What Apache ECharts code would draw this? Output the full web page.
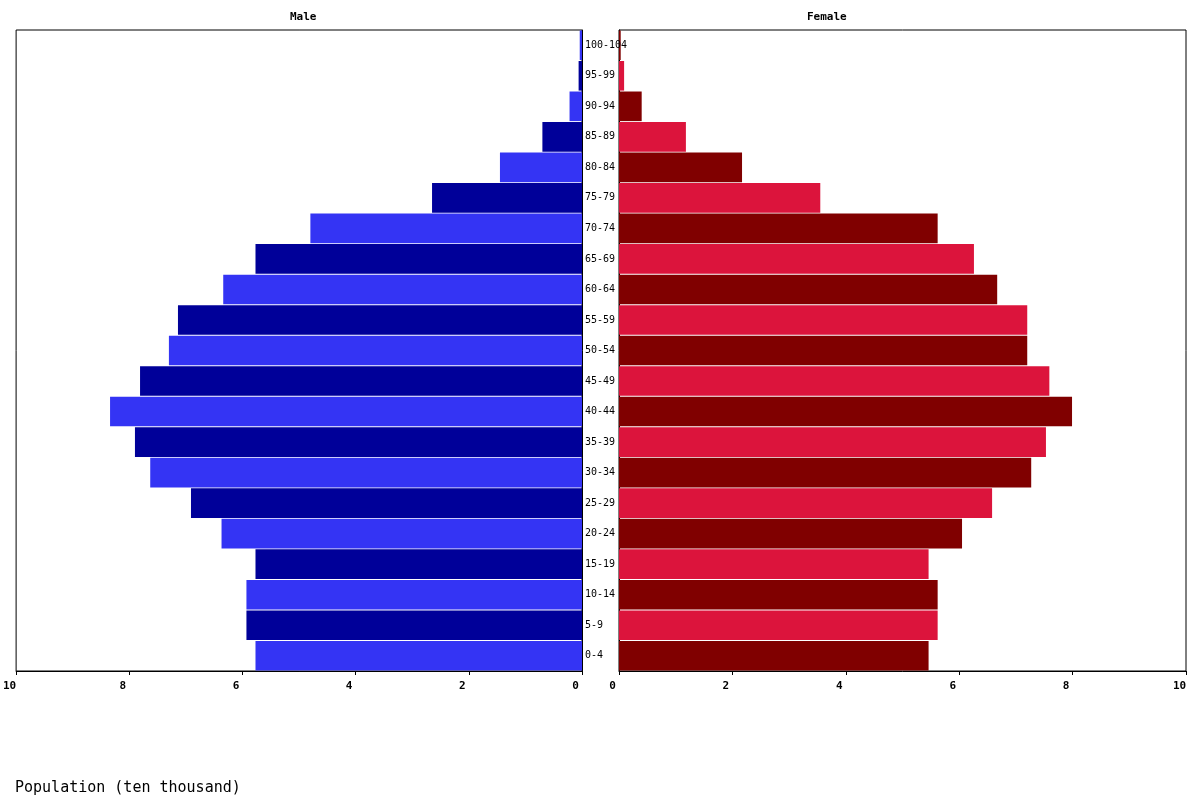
<!DOCTYPE html>
<html>
<head>
<meta charset="utf-8">
<script src="https://cdn.jsdelivr.net/npm/echarts@6/dist/echarts.min.js"></script>
<style>html,body{margin:0;padding:0;background:#fff}#c{width:1200px;height:800px}</style>
</head>
<body>
<div id="c"></div>
<script>
var categories = ['0-4','5-9','10-14','15-19','20-24','25-29','30-34','35-39','40-44','45-49','50-54','55-59','60-64','65-69','70-74','75-79','80-84','85-89','90-94','95-99','100-104'];
var maleValues = [5.77,5.93,5.93,5.77,6.37,6.91,7.63,7.90,8.34,7.81,7.30,7.14,6.34,5.77,4.80,2.65,1.45,0.70,0.22,0.06,0.04];
var femaleValues = [5.46,5.62,5.62,5.46,6.05,6.58,7.27,7.53,7.99,7.59,7.20,7.20,6.67,6.26,5.62,3.55,2.17,1.18,0.40,0.09,0.03];
var xTicks = [0,2,4,6,8,10];
var maleTitle = 'Male';
var femaleTitle = 'Female';
var xAxisTitle = 'Population (ten thousand)';

var mono = 'DejaVu Sans Mono';
var chart = echarts.init(document.getElementById('c'), null, {renderer: 'canvas'});

function xAxisCfg(gi, inverse) {
  return {
    type: 'value', gridIndex: gi, min: xTicks[0], max: xTicks[xTicks.length - 1],
    interval: xTicks[1] - xTicks[0], inverse: inverse,
    axisLine: {show: true, lineStyle: {color: '#000', width: 1}},
    axisTick: {show: true, length: 4, lineStyle: {color: '#000'}},
    splitLine: {show: false},
    axisLabel: {color: '#000', fontFamily: mono, fontWeight: 'bold', fontSize: 11, margin: 10, padding: [0, 13, 0, 0]}
  };
}

chart.setOption({
  animation: false,
  backgroundColor: '#fff',
  grid: [
    {left: 15, right: 618, top: 30, bottom: 129, show: true, borderColor: '#000', borderWidth: 1, backgroundColor: 'transparent'},
    {left: 619, right: 14, top: 30, bottom: 129, show: true, borderColor: '#000', borderWidth: 1, backgroundColor: 'transparent'}
  ],
  xAxis: [xAxisCfg(0, true), xAxisCfg(1, false)],
  yAxis: [
    {type: 'category', gridIndex: 0, data: categories, position: 'right',
     axisLine: {show: true, lineStyle: {color: '#000'}}, axisTick: {show: false},
     axisLabel: {show: true, color: '#000', fontFamily: mono, fontSize: 10, margin: 3, align: 'left', padding: [2, 0, 0, 0]},
     z: 10},
    {type: 'category', gridIndex: 1, data: categories, position: 'left',
     axisLine: {show: true, lineStyle: {color: '#000'}}, axisTick: {show: false},
     axisLabel: {show: false}}
  ],
  graphic: [
    {type: 'text', left: 304 - 14, top: 12, style: {text: maleTitle, font: 'bold 11px "DejaVu Sans Mono"', fill: '#000'}},
    {type: 'text', left: 827 - 20, top: 12, style: {text: femaleTitle, font: 'bold 11px "DejaVu Sans Mono"', fill: '#000'}},
    {type: 'text', left: 15, top: 781, style: {text: xAxisTitle, font: '15px "DejaVu Sans Mono"', fill: '#000'}}
  ],
  series: [
    {type: 'bar', xAxisIndex: 0, yAxisIndex: 0, data: maleValues, barCategoryGap: '3%',
     itemStyle: {color: function (p) { return p.dataIndex % 2 === 0 ? '#3434f4' : '#000099'; }}},
    {type: 'bar', xAxisIndex: 1, yAxisIndex: 1, data: femaleValues, barCategoryGap: '3%',
     itemStyle: {color: function (p) { return p.dataIndex % 2 === 0 ? '#800000' : '#dc143c'; }}}
  ]
});
</script>
</body>
</html>
